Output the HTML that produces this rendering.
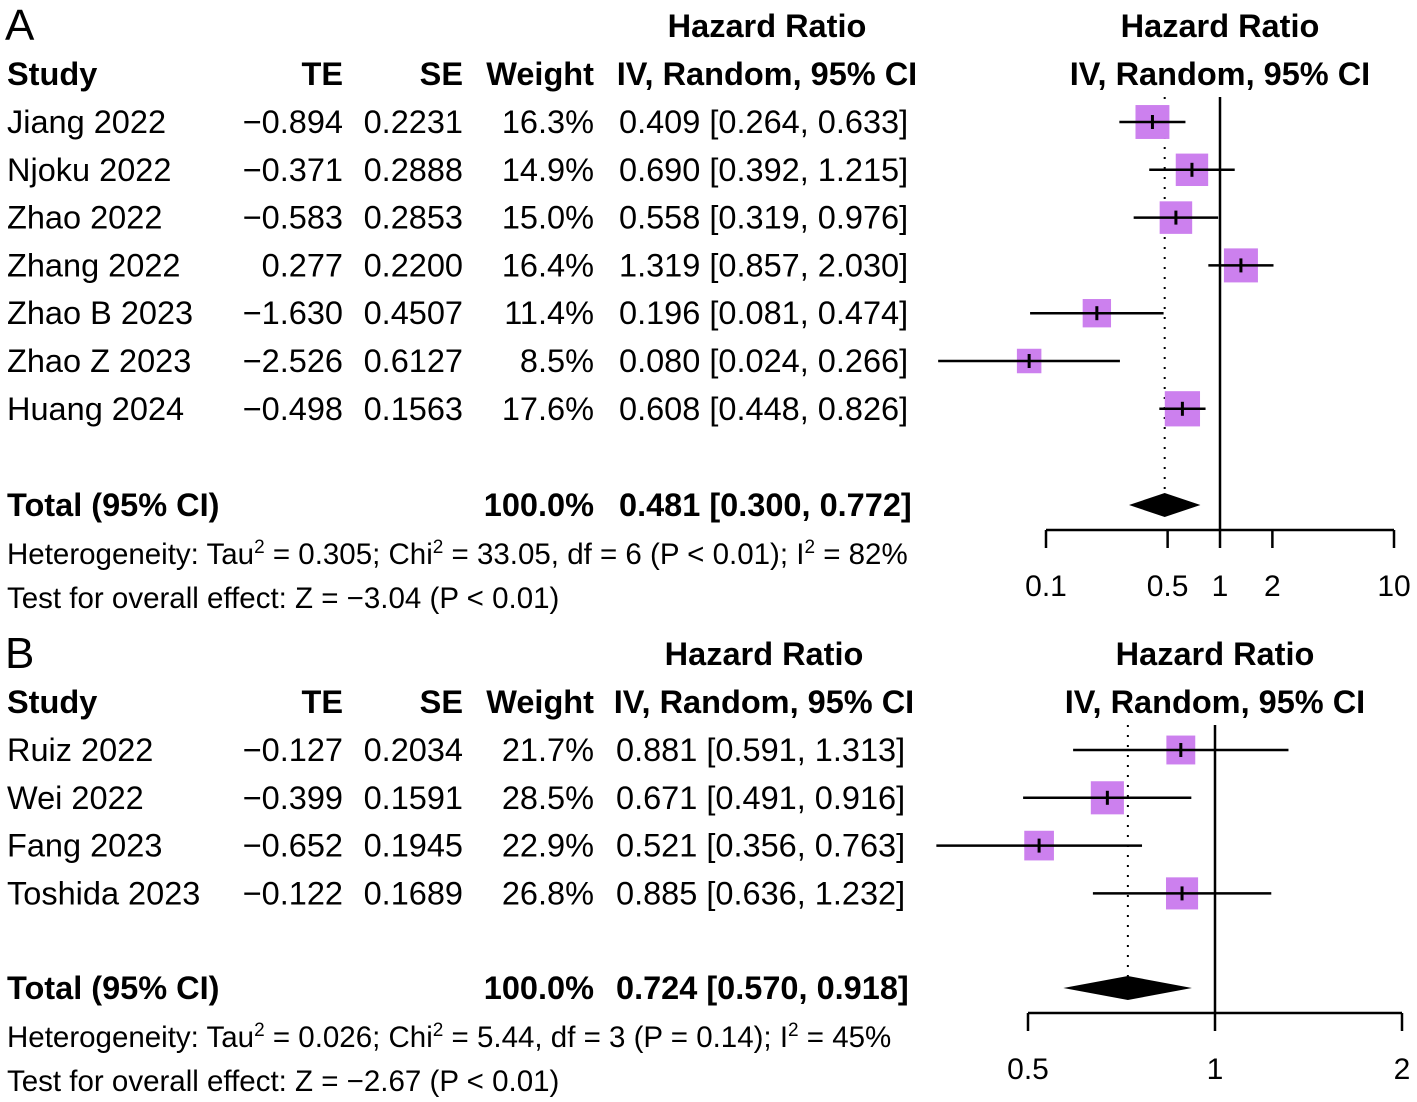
<!DOCTYPE html>
<html><head><meta charset="utf-8"><style>
body{margin:0;background:#fff}
svg{display:block;font-family:"Liberation Sans",Arial,sans-serif}
text{font-size:32.5px;fill:#000}
.b{font-weight:bold}
</style></head><body>
<svg id="c" width="1417" height="1102" viewBox="0 0 1417 1102"></svg>
<script>
const studiesA=["Jiang 2022","Njoku 2022","Zhao 2022","Zhang 2022","Zhao B 2023","Zhao Z 2023","Huang 2024"];
const teA=["\u22120.894","\u22120.371","\u22120.583","0.277","\u22121.630","\u22122.526","\u22120.498"];
const seA=["0.2231","0.2888","0.2853","0.2200","0.4507","0.6127","0.1563"];
const wA=[16.3,14.9,15.0,16.4,11.4,8.5,17.6];
const hrA=[0.409,0.690,0.558,1.319,0.196,0.080,0.608];
const loA=[0.264,0.392,0.319,0.857,0.081,0.024,0.448];
const hiA=[0.633,1.215,0.976,2.030,0.474,0.266,0.826];
const totA=[0.481,0.300,0.772];
const ticksA=[0.1,0.5,1,2,10];
const studiesB=["Ruiz 2022","Wei 2022","Fang 2023","Toshida 2023"];
const teB=["\u22120.127","\u22120.399","\u22120.652","\u22120.122"];
const seB=["0.2034","0.1591","0.1945","0.1689"];
const wB=[21.7,28.5,22.9,26.8];
const hrB=[0.881,0.671,0.521,0.885];
const loB=[0.591,0.491,0.356,0.636];
const hiB=[1.313,0.916,0.763,1.232];
const totB=[0.724,0.570,0.918];
const ticksB=[0.5,1,2];

const svg=document.getElementById('c');
const NS="http://www.w3.org/2000/svg";
function el(tag,attrs,name,txt){const e=document.createElementNS(NS,tag);for(const k in attrs)e.setAttribute(k,attrs[k]);


if(txt!==undefined)e.textContent=txt;svg.appendChild(e);return e;}
function t(x,y,s,name,anchor,bold){const e=el('text',{x:x,y:y,'text-anchor':anchor||'start'},name,s);if(bold)e.setAttribute('class','b');return e;}
function f3(v){return v.toFixed(3);}
function panel(P){
  const xs=v=>P.x1+P.ppu*Math.log(v)/Math.log(P.base);
  const y0=P.top;
  t(5,y0-24,P.letter,'panel-label-'+P.letter,'start').style.fontSize='44px';
  t(P.hrc,y0-27,'Hazard Ratio','hr-header','middle',true);
  t(P.plotc,y0-27,'Hazard Ratio','plot-header','middle',true);
  t(7,y0+21,'Study','study-header','start',true);
  t(343,y0+21,'TE','te-header','end',true);
  t(463,y0+21,'SE','se-header','end',true);
  t(594,y0+21,'Weight','weight-header','end',true);
  t(P.hrc,y0+21,'IV, Random, 95% CI','ci-header','middle',true);
  t(P.plotc,y0+21,'IV, Random, 95% CI','plot-ci-header','middle',true);
  const rows=P.st.length;
  const ry=i=>y0+58+i*47.8;
  const ax=P.axisY;
  el('line',{x1:xs(P.tot[0]),x2:xs(P.tot[0]),y1:y0+33,y2:ax-30,stroke:'#000','stroke-width':2,'stroke-dasharray':'2,8'},'pooled-dotted-line');
  el('line',{x1:xs(1),x2:xs(1),y1:y0+33,y2:ax,stroke:'#000','stroke-width':2.5},'null-line');
  for(let i=0;i<rows;i++){
    const y=ry(i);
    t(7,y+11,P.st[i],'study-name','start');
    t(343,y+11,P.te[i],'te-value','end');
    t(463,y+11,P.se[i],'se-value','end');
    t(594,y+11,P.w[i].toFixed(1)+'%','weight-value','end');
    t(P.hrx,y+11,f3(P.hr[i])+' ['+f3(P.lo[i])+', '+f3(P.hi[i])+']','hr-ci-value','start');
    const s=P.k*Math.sqrt(P.w[i]);
    el('rect',{x:xs(P.hr[i])-s/2,y:y-s/2,width:s,height:s,fill:'#cc80ee'},'study-square');
    el('line',{x1:xs(P.lo[i]),x2:xs(P.hi[i]),y1:y,y2:y,stroke:'#000','stroke-width':2.5},'ci-line');
    el('line',{x1:xs(P.hr[i]),x2:xs(P.hr[i]),y1:y-7,y2:y+7,stroke:'#000','stroke-width':3},'estimate-tick');
  }
  const ty=P.totY;
  t(7,ty+11,'Total (95% CI)','total-label','start',true);
  t(594,ty+11,'100.0%','total-weight','end',true);
  t(P.hrx,ty+11,f3(P.tot[0])+' ['+f3(P.tot[1])+', '+f3(P.tot[2])+']','total-hr','start',true);
  el('polygon',{points:`${xs(P.tot[1])},${ty} ${xs(P.tot[0])},${ty-12} ${xs(P.tot[2])},${ty} ${xs(P.tot[0])},${ty+12}`,fill:'#000'},'total-diamond');
  const h=el('text',{x:7,y:ty+59},'heterogeneity-text');
  h.innerHTML=P.het;h.style.fontSize='29.5px';
  const z=t(7,ty+103,P.test,'overall-effect-text','start');z.style.fontSize='29.5px';
  const tk=P.ticks;
  el('line',{x1:xs(tk[0]),x2:xs(tk[tk.length-1]),y1:ax,y2:ax,stroke:'#000','stroke-width':2.5},'x-axis');
  tk.forEach(v=>{el('line',{x1:xs(v),x2:xs(v),y1:ax,y2:ax+18,stroke:'#000','stroke-width':2.5},'x-tick');
    t(xs(v),ax+66,String(v),'x-tick-label','middle').style.fontSize='30px';});
}
panel({letter:'A',top:64,st:studiesA,te:teA,se:seA,w:wA,hr:hrA,lo:loA,hi:hiA,tot:totA,ticks:ticksA,
  x1:1220,ppu:174,base:10,k:8.4,axisY:530,totY:505,hrc:767,hrx:619,plotc:1220,
  het:'Heterogeneity: Tau<tspan dy="-11" font-size="19">2</tspan><tspan dy="11"> = 0.305; Chi</tspan><tspan dy="-11" font-size="19">2</tspan><tspan dy="11"> = 33.05, df = 6 (P &lt; 0.01); I</tspan><tspan dy="-11" font-size="19">2</tspan><tspan dy="11"> = 82%</tspan>',
  test:'Test for overall effect: Z = \u22123.04 (P < 0.01)'});
panel({letter:'B',top:692,st:studiesB,te:teB,se:seB,w:wB,hr:hrB,lo:loB,hi:hiB,tot:totB,ticks:ticksB,
  x1:1215,ppu:187,base:2,k:6.2,axisY:1013,totY:988,hrc:764,hrx:616,plotc:1215,
  het:'Heterogeneity: Tau<tspan dy="-11" font-size="19">2</tspan><tspan dy="11"> = 0.026; Chi</tspan><tspan dy="-11" font-size="19">2</tspan><tspan dy="11"> = 5.44, df = 3 (P = 0.14); I</tspan><tspan dy="-11" font-size="19">2</tspan><tspan dy="11"> = 45%</tspan>',
  test:'Test for overall effect: Z = \u22122.67 (P < 0.01)'});
</script>
</body></html>
